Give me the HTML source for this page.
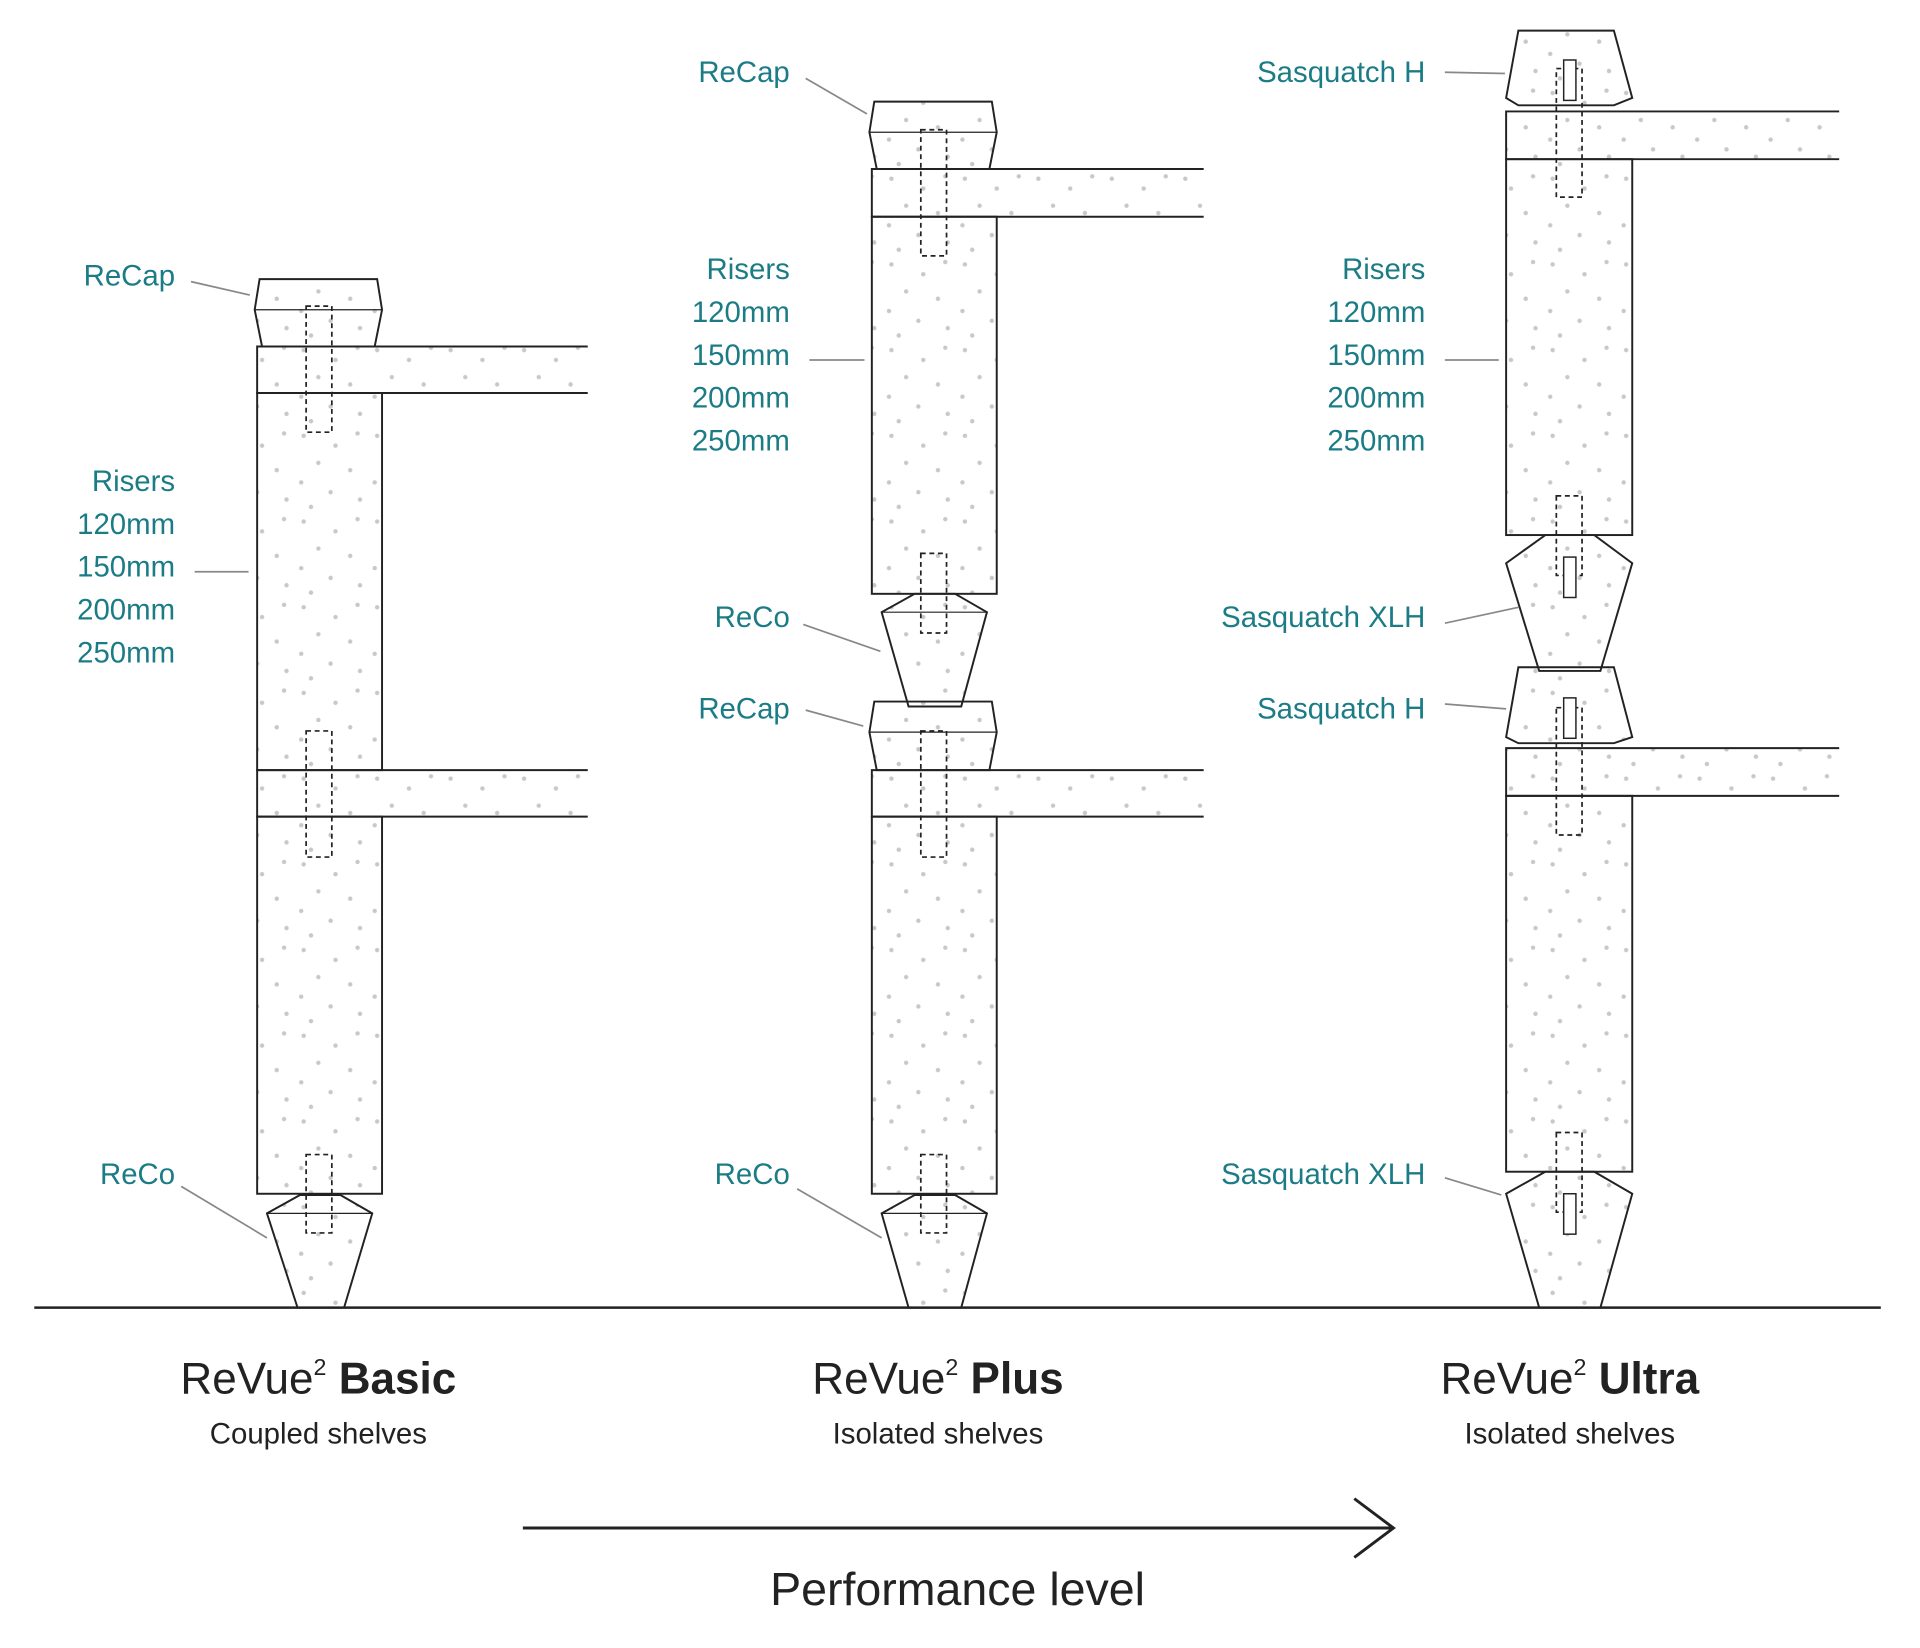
<!DOCTYPE html>
<html><head><meta charset="utf-8"><style>
html,body{margin:0;padding:0;background:#fff;}
svg{display:block;}
.t{font-family:"Liberation Sans",sans-serif;fill:#1c7c86;font-size:24px;}
.k{font-family:"Liberation Sans",sans-serif;fill:#222;}
</style></head><body>
<svg width="1920" height="1648" viewBox="0 0 1568 1346" preserveAspectRatio="none" xmlns="http://www.w3.org/2000/svg">
<defs>
<pattern id="d" width="60" height="70" patternUnits="userSpaceOnUse">
<g fill="#c8c8c8">
<circle cx="8" cy="6" r="1.8"/><circle cx="34" cy="14" r="1.8"/><circle cx="52" cy="4" r="1.8"/>
<circle cx="20" cy="28" r="1.8"/><circle cx="46" cy="34" r="1.8"/><circle cx="6" cy="44" r="1.8"/>
<circle cx="30" cy="52" r="1.8"/><circle cx="54" cy="58" r="1.8"/><circle cx="14" cy="64" r="1.8"/>
</g></pattern>
</defs>
<g stroke="#222" stroke-width="1.6" fill="url(#d)">
<!-- Basic -->
<polygon points="212,228 308,228 312,253 306,283 214,283 208,253"/>
<line x1="208" y1="253" x2="312" y2="253" stroke-width="1"/>
<path d="M480,283 H210 V321 H480"/>
<rect x="210" y="321" width="102" height="308"/>
<path d="M480,629 H210 V667 H480"/>
<rect x="210" y="667" width="102" height="308"/>
<polygon points="245,976 278,976 304,991 281,1068 243,1068 218,991"/>
<line x1="218" y1="991" x2="304" y2="991" stroke-width="1"/>
<!-- Plus -->
<polygon points="714,83 810,83 814,108 808,138 716,138 710,108"/>
<line x1="710" y1="108" x2="814" y2="108" stroke-width="1"/>
<path d="M983,138 H712 V177 H983"/>
<rect x="712" y="177" width="102" height="308"/>
<polygon points="747,485 780,485 806,500 785,577 742,577 720,500"/>
<line x1="720" y1="500" x2="806" y2="500" stroke-width="1"/>
<polygon points="714,573 810,573 814,598 808,629 716,629 710,598"/>
<line x1="710" y1="598" x2="814" y2="598" stroke-width="1"/>
<path d="M983,629 H712 V667 H983"/>
<rect x="712" y="667" width="102" height="308"/>
<polygon points="747,976 780,976 806,991 785,1068 742,1068 720,991"/>
<line x1="720" y1="991" x2="806" y2="991" stroke-width="1"/>
<!-- Ultra -->
<polygon points="1240,25 1318,25 1333,80 1318,86 1240,86 1230,80"/>
<path d="M1502,91 H1230 V130 H1502"/>
<rect x="1230" y="130" width="103" height="307"/>
<polygon points="1262,437 1302,437 1333,460 1307,548 1257,548 1230,460"/>
<polygon points="1240,545 1318,545 1333,602 1318,607 1240,607 1230,602"/>
<path d="M1502,611 H1230 V650 H1502"/>
<rect x="1230" y="650" width="103" height="307"/>
<polygon points="1262,957 1302,957 1333,975 1307,1068 1257,1068 1230,975"/>
</g>
<g stroke="#222" stroke-width="1.4" fill="none" stroke-dasharray="4,3">
<rect x="250" y="250" width="21" height="103"/><rect x="250" y="597" width="21" height="103"/><rect x="250" y="943" width="21" height="64"/>
<rect x="752" y="106" width="21" height="103"/><rect x="752" y="452" width="21" height="65"/><rect x="752" y="597" width="21" height="103"/><rect x="752" y="943" width="21" height="64"/>
<rect x="1271" y="56" width="21" height="105"/><rect x="1271" y="405" width="21" height="65"/><rect x="1271" y="578" width="21" height="104"/><rect x="1271" y="925" width="21" height="65"/>
</g>
<g stroke="#222" stroke-width="1.2" fill="#fff">
<rect x="1277" y="49" width="10" height="33"/><rect x="1277" y="455" width="10" height="33"/><rect x="1277" y="570" width="10" height="33"/><rect x="1277" y="975" width="10" height="33"/>
</g>
<g stroke="#888" stroke-width="1.4">
<line x1="156" y1="230" x2="204" y2="241"/><line x1="159" y1="467" x2="203" y2="467"/><line x1="148" y1="969" x2="218" y2="1011"/>
<line x1="658" y1="64" x2="708" y2="93"/><line x1="661" y1="294" x2="706" y2="294"/><line x1="656" y1="510" x2="719" y2="532"/>
<line x1="658" y1="580" x2="705" y2="593"/><line x1="651" y1="971" x2="720" y2="1011"/>
<line x1="1180" y1="59" x2="1229" y2="60"/><line x1="1180" y1="294" x2="1224" y2="294"/><line x1="1180" y1="509" x2="1240" y2="496"/>
<line x1="1180" y1="575" x2="1230" y2="579"/><line x1="1180" y1="962" x2="1226" y2="976"/>
</g>
<line x1="28" y1="1068" x2="1536" y2="1068" stroke="#222" stroke-width="2"/>
<g class="t" text-anchor="end">
<text x="143" y="233">ReCap</text>
<text x="143" y="401">Risers</text><text x="143" y="436">120mm</text><text x="143" y="471">150mm</text><text x="143" y="506">200mm</text><text x="143" y="541">250mm</text>
<text x="143" y="967">ReCo</text>
<text x="645" y="67">ReCap</text>
<text x="645" y="228">Risers</text><text x="645" y="263">120mm</text><text x="645" y="298">150mm</text><text x="645" y="333">200mm</text><text x="645" y="368">250mm</text>
<text x="645" y="512">ReCo</text><text x="645" y="587">ReCap</text><text x="645" y="967">ReCo</text>
<text x="1164" y="67">Sasquatch H</text>
<text x="1164" y="228">Risers</text><text x="1164" y="263">120mm</text><text x="1164" y="298">150mm</text><text x="1164" y="333">200mm</text><text x="1164" y="368">250mm</text>
<text x="1164" y="512">Sasquatch XLH</text><text x="1164" y="587">Sasquatch H</text><text x="1164" y="967">Sasquatch XLH</text>
</g>
<g class="k" text-anchor="middle">
<text x="260" y="1138" font-size="36"><tspan>ReVue</tspan><tspan font-size="19" dy="-15">2</tspan><tspan dy="15" font-weight="bold"> Basic</tspan></text>
<text x="260" y="1179" font-size="24">Coupled shelves</text>
<text x="766" y="1138" font-size="36"><tspan>ReVue</tspan><tspan font-size="19" dy="-15">2</tspan><tspan dy="15" font-weight="bold"> Plus</tspan></text>
<text x="766" y="1179" font-size="24">Isolated shelves</text>
<text x="1282" y="1138" font-size="36"><tspan>ReVue</tspan><tspan font-size="19" dy="-15">2</tspan><tspan dy="15" font-weight="bold"> Ultra</tspan></text>
<text x="1282" y="1179" font-size="24">Isolated shelves</text>
<text x="782" y="1311" font-size="38">Performance level</text>
</g>
<g stroke="#222" stroke-width="2.4" fill="none">
<line x1="427" y1="1248" x2="1138" y2="1248"/>
<polyline points="1106,1224 1138,1248 1106,1272"/>
</g>
</svg>
</body></html>
